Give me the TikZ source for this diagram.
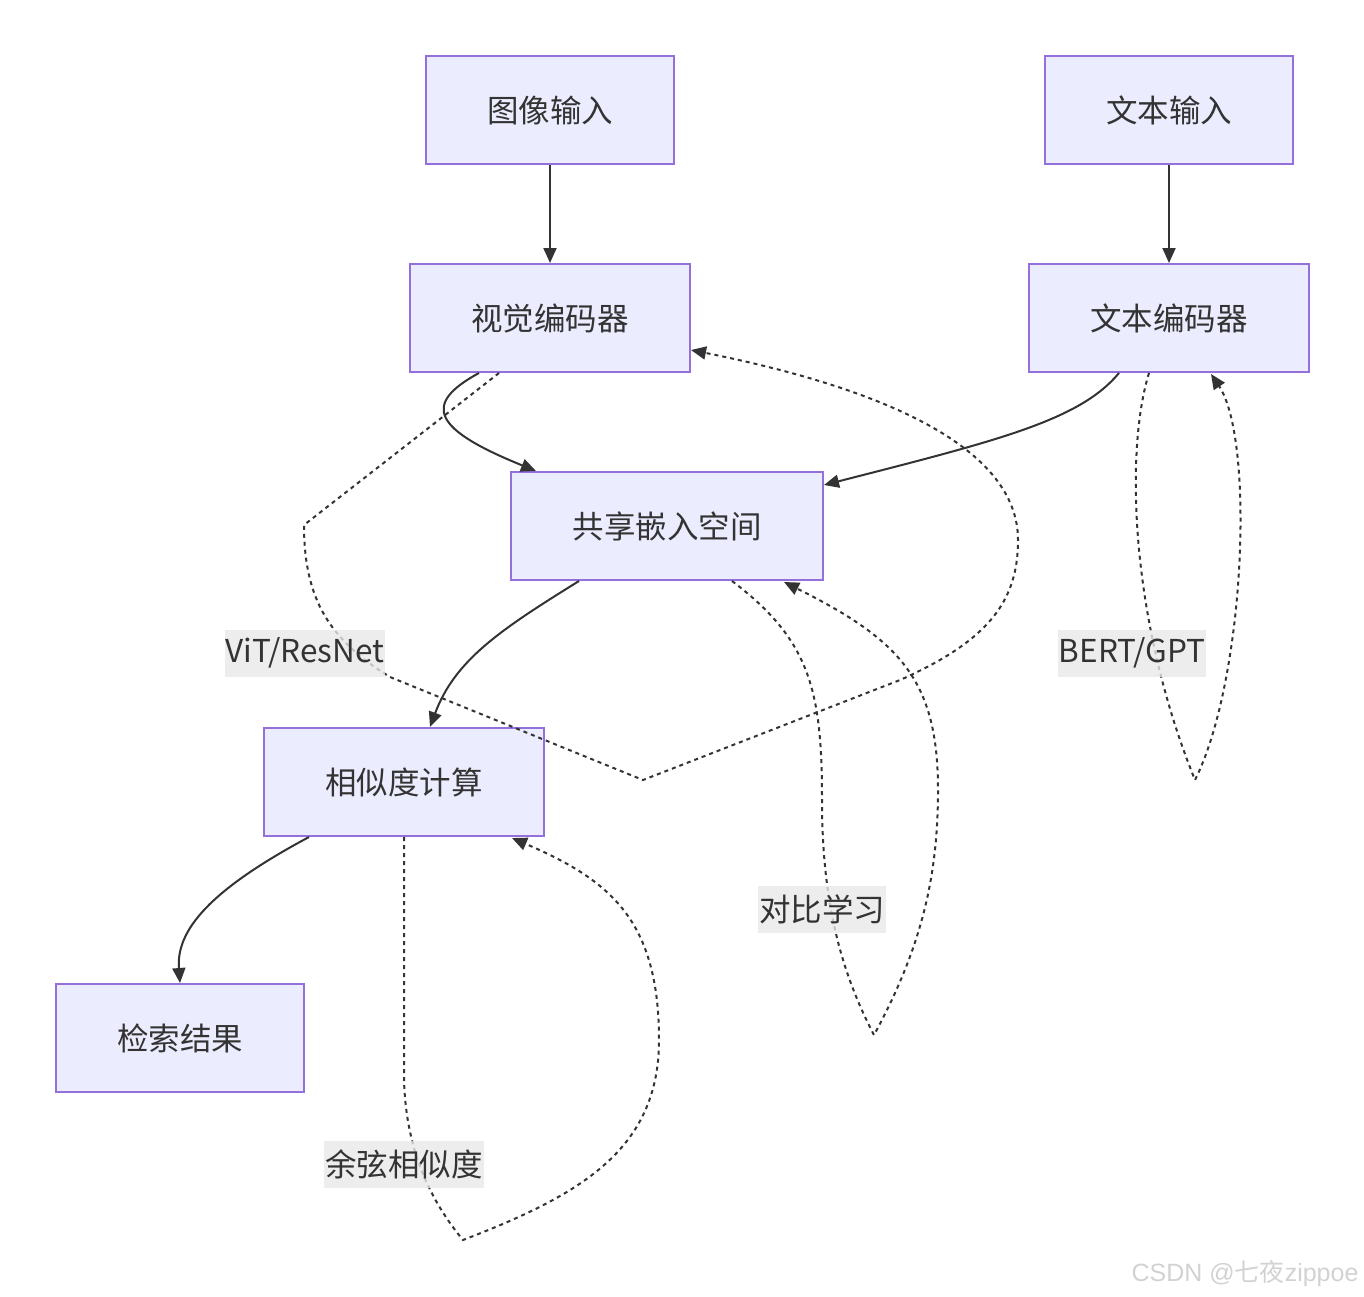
\documentclass[tikz,border=0pt]{standalone}
\usepackage{fontspec}
\usepackage{tikz}
\usepackage{xcolor}
\usetikzlibrary{arrows.meta,calc}
\setmainfont{Noto Sans CJK SC}
\newfontfamily\markfont{Liberation Sans}
\definecolor{boxfill}{HTML}{ECECFF}
\definecolor{boxline}{HTML}{9370DB}
\definecolor{inkgray}{HTML}{333333}
\definecolor{labelgray}{HTML}{E8E8E8}
\tikzset{
    flow-box/.style = {draw=boxline, fill=boxfill, line width=2pt, rectangle, text=inkgray, minimum height=108pt, inner sep=0pt, font=\fontsize{31.5}{38}\selectfont},
    edge-label/.style = {fill=labelgray, fill opacity=0.8, text opacity=1, text=inkgray, inner xsep=1pt, inner ysep=0pt, minimum height=47pt, font=\fontsize{31.5}{38}\selectfont},
    flow-arrow/.style = {draw=inkgray, line width=2pt, -{Triangle[length=15pt,width=13pt]}},
    loop-arrow/.style = {flow-arrow, dash pattern=on 4pt off 4pt},
}

\begin{document}
\begin{tikzpicture}[x=1pt, y=-1pt]
\useasboundingbox (0,0) rectangle (1364,1296);
% nodes
\node [flow-box, minimum width=248pt] (img-in) at (550,110) {图像输入};
\node [flow-box, minimum width=248pt] (txt-in) at (1169,110) {文本输入};
\node [flow-box, minimum width=280pt] (vis-enc) at (550,318) {视觉编码器};
\node [flow-box, minimum width=280pt] (txt-enc) at (1169,318) {文本编码器};
\node [flow-box, minimum width=312pt] (shared) at (667,526) {共享嵌入空间};
\node [flow-box, minimum width=280pt] (sim) at (404,782) {相似度计算};
\node [flow-box, minimum width=248pt] (result) at (180,1038) {检索结果};
\coordinate (vit-turn) at (304,525);
\coordinate (vit-low) at (643,780);
\coordinate (bert-low) at (1195,780);
\coordinate (cl-low) at (874,1035);
\coordinate (cos-low) at (463,1240);

% self loops, dashed
\draw [loop-arrow] ($(vis-enc.south west)+(90pt,0)$) -- (vit-turn) .. controls (304,600) and (330,640) .. (390,677) -- (vit-low) -- (900,680) .. controls (990,640) and (1018,600) .. (1018,540) .. controls (1018,470) and (940,400) .. ($(vis-enc.east)+(0,-32pt)$);
\draw [loop-arrow] ($(txt-enc.south west)+(121pt,0)$) .. controls (1125,450) and (1130,620) .. (bert-low) .. controls (1245,680) and (1255,440) .. ($(txt-enc.south west)+(183pt,-1pt)$);
\draw [loop-arrow] ($(shared.south west)+(222pt,0)$) .. controls (810,640) and (822,690) .. (822,800) .. controls (822,900) and (840,970) .. (cl-low) .. controls (920,950) and (938,880) .. (938,790) .. controls (938,680) and (900,640) .. ($(shared.south west)+(274pt,-1pt)$);
\draw [loop-arrow] (sim.south) -- (404,1080) .. controls (406,1150) and (430,1200) .. (cos-low) .. controls (580,1195) and (659,1150) .. (659,1040) .. controls (659,920) and (610,880) .. ($(sim.south west)+(249pt,-1pt)$);

% main flow
\draw [flow-arrow] (img-in) -- (vis-enc);
\draw [flow-arrow] (txt-in) -- (txt-enc);
\draw [flow-arrow] ($(vis-enc.south west)+(70pt,0)$) .. controls (420,405) and (435,430) .. ($(shared.north west)+(26pt,0)$);
\draw [flow-arrow] ($(txt-enc.south west)+(91pt,0)$) .. controls (1080,420) and (1000,440) .. ($(shared.north east)+(0,-14pt)$);
\draw [flow-arrow] ($(shared.south west)+(69pt,0)$) .. controls (500,630) and (455,660) .. ($(sim.north)+(26pt,0)$);
\draw [flow-arrow] ($(sim.south west)+(46pt,0)$) .. controls (210,890) and (176,930) .. (result.north);

% labels
\node [edge-label] (vit-lbl) at (305,653) {ViT/ResNet};
\node [edge-label] (bert-lbl) at (1132,653) {BERT/GPT};
\node [edge-label] (cl-lbl) at (822,909) {对比学习};
\node [edge-label] (cos-lbl) at (404,1164) {余弦相似度};

\node [text=gray!35, font=\fontsize{25}{30}\selectfont] (mark) at (1245,1273) {\markfont CSDN @\normalfont 七夜\markfont zippoe};
\end{tikzpicture}
\end{document}
